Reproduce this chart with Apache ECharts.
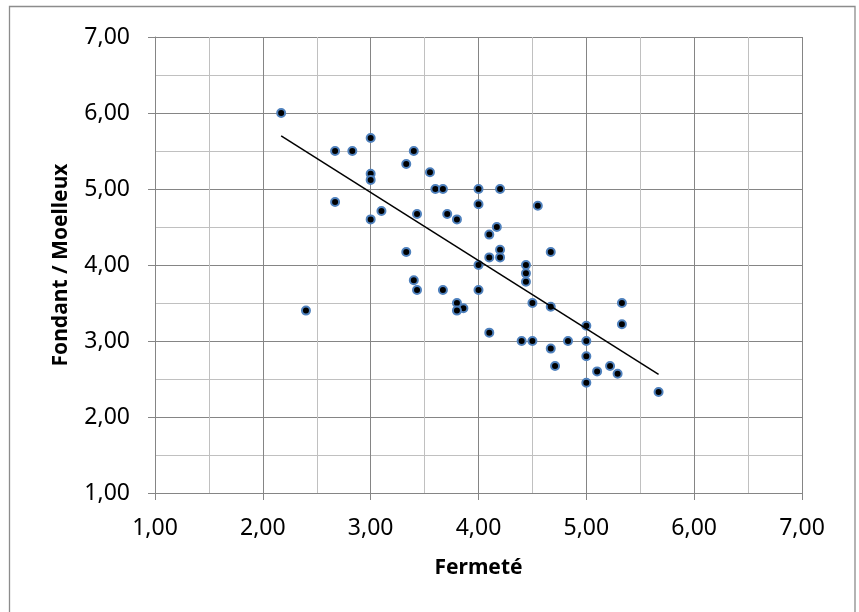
<!DOCTYPE html>
<html>
<head>
<meta charset="utf-8">
<script src="https://cdn.jsdelivr.net/npm/echarts@6/dist/echarts.min.js"></script>
<style>
  html, body { margin: 0; padding: 0; background: #ffffff; }
  #chart { width: 859px; height: 612px; }
</style>
</head>
<body>
<div id="chart"></div>
<script>
// Fermeté (x) values
const fermete = [
  2.17, 2.40, 2.67, 2.83, 2.67, 3.00, 3.00, 3.00, 3.00, 3.10,
  3.33, 3.40, 3.55, 3.60, 3.67, 4.00, 4.20, 4.00, 3.43, 3.71,
  3.80, 4.17, 4.10, 4.55, 3.33, 4.10, 4.20, 4.20, 4.00, 4.44,
  4.44, 4.44, 4.67, 3.40, 3.43, 3.67, 4.00, 3.80, 3.86, 3.80,
  4.10, 4.40, 4.50, 4.50, 4.67, 5.33, 5.33, 5.00, 4.83, 5.00,
  4.67, 5.00, 4.71, 5.10, 5.22, 5.29, 5.00, 5.67
];
// Fondant / Moelleux (y) values
const fondant = [
  6.00, 3.40, 5.50, 5.50, 4.83, 5.67, 5.20, 5.12, 4.60, 4.71,
  5.33, 5.50, 5.22, 5.00, 5.00, 5.00, 5.00, 4.80, 4.67, 4.67,
  4.60, 4.50, 4.40, 4.78, 4.17, 4.10, 4.20, 4.10, 4.00, 4.00,
  3.89, 3.78, 4.17, 3.80, 3.67, 3.67, 3.67, 3.50, 3.43, 3.40,
  3.11, 3.00, 3.00, 3.50, 3.45, 3.50, 3.22, 3.20, 3.00, 3.00,
  2.90, 2.80, 2.67, 2.60, 2.67, 2.57, 2.45, 2.33
];
// Linear trend line endpoints
const trendX = [2.17, 5.67];
const trendY = [5.70, 2.56];

const xTitle = 'Fermeté';
const yTitle = 'Fondant / Moelleux';

const points = fermete.map((x, i) => [x, fondant[i]]);
const trend = trendX.map((x, i) => [x, trendY[i]]);

const fmt = v => v.toFixed(2).replace('.', ',');
const FONT = '"Noto Sans", "Open Sans", sans-serif';
const major = '#858585';
const minor = '#c0c0c0';

function axisCommon() {
  return {
    type: 'value',
    min: 1, max: 7, interval: 1,
    axisLine: { show: true, lineStyle: { color: major, width: 1 } },
    axisTick: { show: true, inside: false, length: 7, lineStyle: { color: major, width: 1 } },
    splitLine: { show: true, lineStyle: { color: major, width: 1 } },
    minorTick: { show: false, splitNumber: 2 },
    minorSplitLine: { show: true, lineStyle: { color: minor, width: 1 } },
    axisLabel: { formatter: fmt, color: '#000', fontFamily: FONT, fontSize: 23 },
    nameTextStyle: { color: '#000', fontFamily: FONT, fontSize: 21, fontWeight: 'bold' }
  };
}

const xAxis = axisCommon();
xAxis.name = xTitle;
xAxis.nameLocation = 'middle';
xAxis.nameGap = 65;
xAxis.axisLabel.margin = 24;

const yAxis = axisCommon();
yAxis.name = yTitle;
yAxis.nameLocation = 'middle';
yAxis.nameGap = 83;
yAxis.axisLabel.margin = 25;

const chart = echarts.init(document.getElementById('chart'), null, { renderer: 'canvas' });
chart.setOption({
  backgroundColor: '#ffffff',
  animation: false,
  grid: { left: 155, top: 37, right: 57, bottom: 119, containLabel: false },
  xAxis: xAxis,
  yAxis: yAxis,
  graphic: [{
    type: 'rect',
    shape: { x: 9.5, y: 6.5, width: 845.5, height: 620 },
    style: { fill: 'none', stroke: '#8c8c8c', lineWidth: 1.3 },
    silent: true, z: -1
  }],
  series: [
    {
      type: 'scatter',
      data: points,
      symbol: 'circle',
      symbolSize: 8,
      itemStyle: { color: '#000000', borderColor: '#4F81BD', borderWidth: 2, opacity: 1 },
      z: 3
    },
    {
      type: 'line',
      data: trend,
      showSymbol: false,
      symbol: 'none',
      lineStyle: { color: '#000000', width: 1.5 },
      z: 4
    }
  ]
});
</script>
</body>
</html>
